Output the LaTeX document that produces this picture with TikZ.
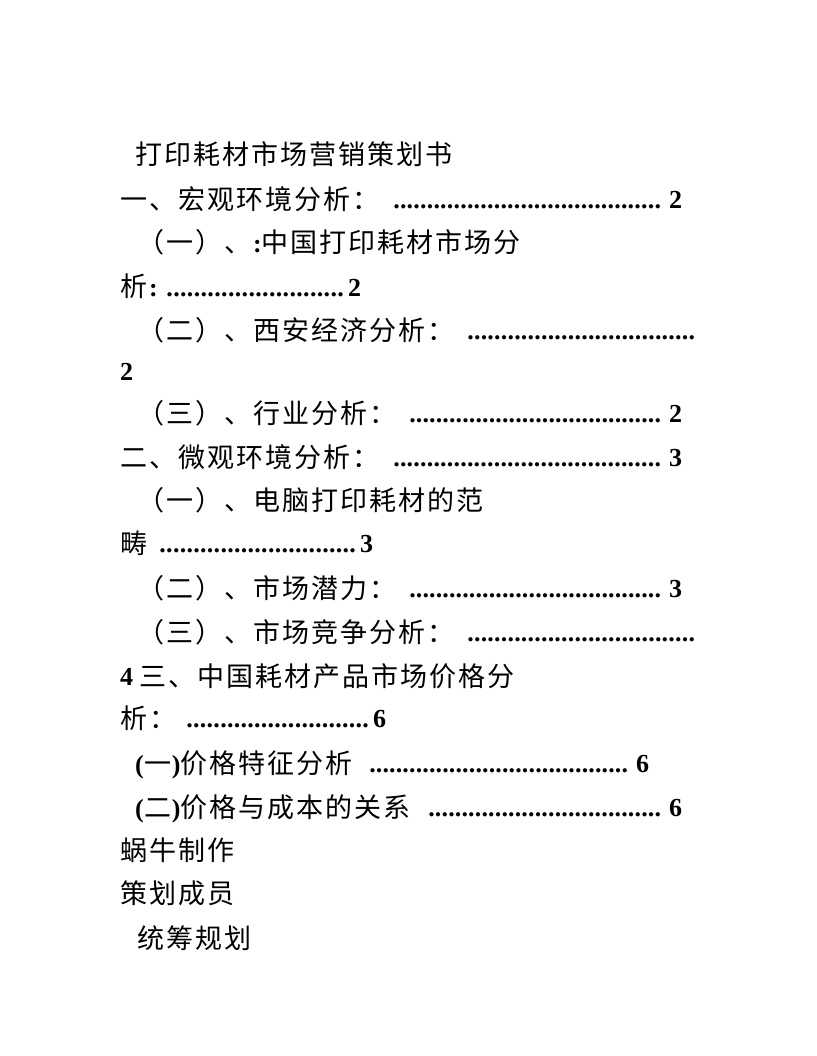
\documentclass[tikz,border=0pt]{standalone}
\usepackage{fontspec}
\setmainfont{Liberation Serif}
\newfontfamily\cjk{Noto Sans CJK SC}[LetterSpace=7.4]
\newcommand\myleader[1]{\hbox to #1{\xleaders\hbox to 6.6pt{\hss.\hss}\hfill}}
\newcommand\bsym[1]{\textbf{\rmfamily\fontsize{26}{26}\selectfont #1}}
\tikzset{
  cj/.style={anchor=base west, inner sep=0pt, font=\cjk\fontsize{27}{27}\selectfont},
  bd/.style={anchor=base west, inner sep=0pt, font=\bfseries\fontsize{26}{26}\selectfont},
}
\begin{document}
\begin{tikzpicture}[x=1pt,y=-1pt]
\useasboundingbox[fill=white] (0,0) rectangle (816,1056);
% title
\node[cj] (t1) at (135,165) {打印耗材市场营销策划书};
% line 2
\node[cj] (t2) at (120,210) {一、宏观环境分析：};
\node[bd] (d2) at (393,209) {\myleader{268pt}};
\node[bd] (n2) at (669,209) {2};
% line 3
\node[cj] (t3) at (137,253) {（一）、\bsym{:}中国打印耗材市场分};
% line 4
\node[cj] (t4) at (120,297) {析\bsym{:}};
\node[bd] (d4) at (166,296) {\myleader{178pt}};
\node[bd] (n4) at (348,296) {2};
% line 5
\node[cj] (t5) at (137,340) {（二）、西安经济分析：};
\node[bd] (d5) at (467,339) {\myleader{228pt}};
% line 6
\node[bd] (n6) at (120,380) {2};
% line 7
\node[cj] (t7) at (137,423) {（三）、行业分析：};
\node[bd] (d7) at (409,422) {\myleader{252pt}};
\node[bd] (n7) at (669,422) {2};
% line 8
\node[cj] (t8) at (120,467) {二、微观环境分析：};
\node[bd] (d8) at (393,466) {\myleader{268pt}};
\node[bd] (n8) at (669,466) {3};
% line 9
\node[cj] (t9) at (137,510) {（一）、电脑打印耗材的范};
% line 10
\node[cj] (t10) at (120,553) {畴};
\node[bd] (d10) at (159,552) {\myleader{197pt}};
\node[bd] (n10) at (360,552) {3};
% line 11
\node[cj] (t11) at (137,598) {（二）、市场潜力：};
\node[bd] (d11) at (409,597) {\myleader{252pt}};
\node[bd] (n11) at (669,597) {3};
% line 12
\node[cj] (t12) at (137,642) {（三）、市场竞争分析：};
\node[bd] (d12) at (467,641) {\myleader{228pt}};
% line 13
\node[bd] (n13) at (120,685) {4};
\node[cj] (t13) at (139,686) {三、中国耗材产品市场价格分};
% line 14
\node[cj] (t14) at (120,728) {析：};
\node[bd] (d14) at (186,727) {\myleader{183pt}};
\node[bd] (n14) at (373,727) {6};
% line 15
\node[cj] (t15) at (135,773) {\bsym{(}\hspace{1pt}一\hspace{-2pt}\bsym{)}价格特征分析};
\node[bd] (d15) at (369,772) {\myleader{259pt}};
\node[bd] (n15) at (636,772) {6};
% line 16
\node[cj] (t16) at (135,817) {\bsym{(}\hspace{1pt}二\hspace{-2pt}\bsym{)}价格与成本的关系};
\node[bd] (d16) at (428,816) {\myleader{233pt}};
\node[bd] (n16) at (669,816) {6};
% tail
\node[cj] (t17) at (120,860) {蜗牛制作};
\node[cj] (t18) at (120,903) {策划成员};
\node[cj] (t19) at (137,948) {统筹规划};
\end{tikzpicture}
\end{document}
